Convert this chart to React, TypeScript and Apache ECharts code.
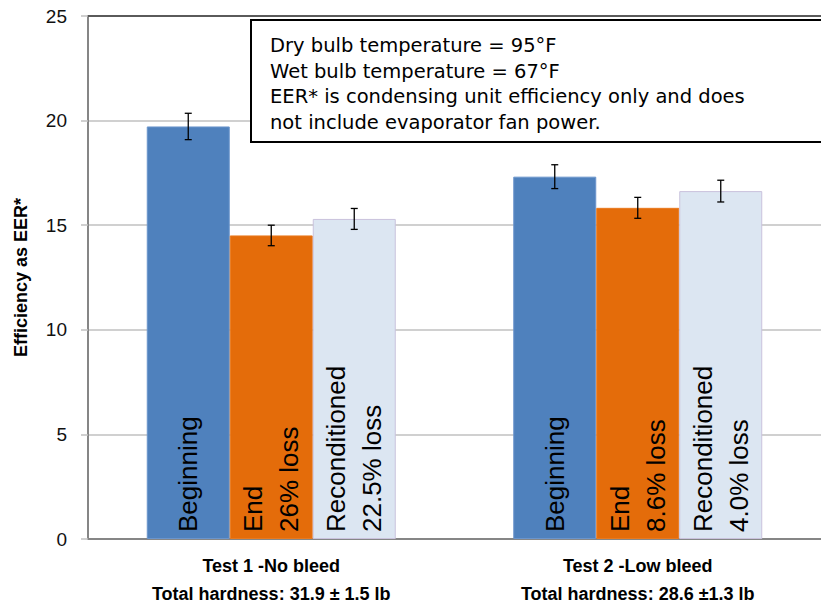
import React, { useEffect, useRef } from "react";
import * as echarts from "echarts";

const categories = [
  "Test 1 -No bleed\nTotal hardness: 31.9 ± 1.5 lb",
  "Test 2 -Low bleed\nTotal hardness: 28.6 ±1.3 lb",
];
const seriesNames = ["Beginning", "End", "Reconditioned"];
const beginningValues = [19.72, 17.32];
const endValues = [14.51, 15.83];
const reconditionedValues = [15.3, 16.63];
const beginningErr = [0.63, 0.57];
const endErr = [0.49, 0.5];
const reconditionedErr = [0.5, 0.52];
const beginningLabels = ["Beginning", "Beginning"];
const endLabels = ["End\n26% loss", "End\n8.6% loss"];
const reconditionedLabels = ["Reconditioned\n22.5% loss", "Reconditioned\n4.0% loss"];
const yTicks = { min: 0, max: 25, interval: 5 };
const noteLines = [
  "Dry bulb temperature = 95°F",
  "Wet bulb temperature = 67°F",
  "EER* is condensing unit efficiency only and does",
  "not include evaporator fan power.",
];

const BAR_W = 83;

export default function App() {
  const ref = useRef<HTMLDivElement>(null);
  useEffect(() => {
    if (!ref.current) return;
    const chart = echarts.init(ref.current, undefined, { renderer: "svg" });
    const values = [beginningValues, endValues, reconditionedValues];
    const errs = [beginningErr, endErr, reconditionedErr];
    const labels = [beginningLabels, endLabels, reconditionedLabels];
    const colors = ["#4f81bd", "#e46c0a", "#dce6f2"];
    const borders = ["#6b95cc", "#e97a1f", "#c9c2dc"];

    const barSeries = values.map((vals, si) => ({
      type: "bar",
      name: seriesNames[si],
      data: vals,
      barWidth: BAR_W,
      barGap: "0%",
      itemStyle: { color: colors[si], borderColor: borders[si], borderWidth: 1 },
      label: {
        show: true,
        position: "insideBottom",
        rotate: 90,
        align: "left",
        verticalAlign: "middle",
        distance: 7,
        fontSize: 26,
        lineHeight: 36,
        fontFamily: "Liberation Sans",
        color: "#000",
        formatter: (p: any) => labels[si][p.dataIndex],
      },
      z: 2,
    }));

    const errSeries = values.map((vals, si) => ({
      type: "custom",
      name: seriesNames[si] + " err",
      data: vals.map((v, i) => [i, v - errs[si][i], v + errs[si][i]]),
      z: 5,
      renderItem: (params: any, api: any) => {
        const ci = api.value(0);
        const lo = api.coord([ci, api.value(1)]);
        const hi = api.coord([ci, api.value(2)]);
        const x = lo[0] + (si - 1) * BAR_W;
        const cap = 3.5;
        const st = { stroke: "#000", lineWidth: 1.3 };
        return {
          type: "group",
          children: [
            { type: "line", shape: { x1: x, y1: lo[1], x2: x, y2: hi[1] }, style: st },
            { type: "line", shape: { x1: x - cap, y1: lo[1], x2: x + cap, y2: lo[1] }, style: st },
            { type: "line", shape: { x1: x - cap, y1: hi[1], x2: x + cap, y2: hi[1] }, style: st },
          ],
        };
      },
    }));

    chart.setOption({
      animation: false,
      grid: { left: 88, top: 16, width: 749, height: 531.5, containLabel: false },
      xAxis: [
        {
          type: "category",
          data: categories,
          axisLine: { lineStyle: { color: "#868686", width: 2 } },
          axisTick: { show: false },
          axisLabel: {
            fontSize: 18,
            fontWeight: "bold",
            fontFamily: "Liberation Sans",
            color: "#000",
            lineHeight: 28,
            margin: 13,
            interval: 0,
          },
        },
        {
          type: "category",
          position: "top",
          data: categories,
          axisLine: { show: true, lineStyle: { color: "#5a5a5a", width: 2 } },
          axisTick: { show: false },
          axisLabel: { show: false },
        },
      ],
      yAxis: {
        type: "value",
        min: yTicks.min,
        max: yTicks.max,
        interval: yTicks.interval,
        name: "Efficiency as EER*",
        nameLocation: "middle",
        nameGap: 58,
        nameTextStyle: {
          fontSize: 18,
          fontWeight: "bold",
          fontFamily: "Liberation Sans",
          color: "#000",
        },
        axisLine: { show: true, lineStyle: { color: "#868686", width: 2 } },
        axisTick: { show: true, length: 7, lineStyle: { color: "#c0c0c0", width: 1.5 } },
        axisLabel: { fontSize: 19, fontFamily: "Liberation Sans", color: "#111", margin: 21 },
        splitLine: { show: true, lineStyle: { color: "#c0c0c0", width: 1.5 } },
      },
      series: [...barSeries, ...errSeries],
      graphic: [
        {
          type: "rect",
          shape: { x: 251, y: 20, width: 620, height: 122 },
          style: { fill: "#fff", stroke: "#000", lineWidth: 2 },
          z: 10,
        },
        {
          type: "text",
          x: 270,
          y: 33,
          style: {
            text: noteLines.join("\n"),
            fontSize: 19.5,
            lineHeight: 25.5,
            fontFamily: "DejaVu Sans",
            fill: "#000",
          },
          z: 11,
        },
      ],
    });
    return () => chart.dispose();
  }, []);
  return (
    <div
      ref={ref}
      style={{ position: "fixed", left: 0, top: 0, width: 821, height: 608, background: "#fff" }}
    />
  );
}
